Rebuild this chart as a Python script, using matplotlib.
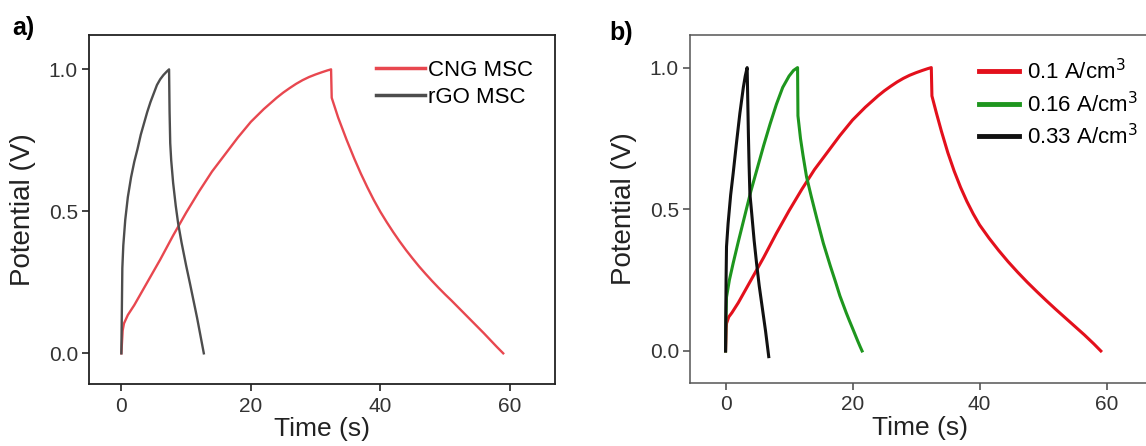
import numpy as np
import matplotlib
matplotlib.use('Agg')
import matplotlib.pyplot as plt

plt.rcParams['font.family'] = ['Liberation Sans', 'DejaVu Sans']

#############################################################################
# panel a : CNG MSC vs rGO MSC

cng_t = [0.0, 0.1, 0.2, 0.4, 1.0, 2.0, 4.0, 6.0, 8.0, 10.0, 12.0, 14.0, 16.0, 18.0, 20.0,
         22.0, 24.0, 25.0, 26.0, 27.0, 28.0, 29.0, 30.0, 31.0, 31.8, 32.4,
         32.5, 33.5, 34.8, 36.0, 37.0, 38.0, 39.0, 40.0, 41.0, 42.0, 43.0, 44.0, 45.0,
         46.0, 47.0, 48.0, 49.0, 50.0, 51.0, 52.0, 53.0, 54.0, 55.0, 56.0, 57.0, 58.0, 59.0]
cng_v = [0.0, 0.04, 0.08, 0.105, 0.135, 0.17, 0.25, 0.33, 0.415, 0.495, 0.57, 0.64, 0.70, 0.76, 0.815,
         0.86, 0.90, 0.918, 0.934, 0.949, 0.962, 0.973, 0.982, 0.99, 0.996, 1.0,
         0.90, 0.83, 0.752, 0.685, 0.633, 0.585, 0.54, 0.499, 0.462, 0.427, 0.394, 0.363, 0.334,
         0.306, 0.28, 0.255, 0.231, 0.208, 0.186, 0.163, 0.14, 0.117, 0.094, 0.071, 0.047, 0.023, 0.0]

rgo_t = [0.0, 0.05, 0.1, 0.15, 0.3, 0.6, 1.0, 1.5, 2.0, 2.5, 3.0, 3.5, 4.0, 4.5, 5.0, 5.5,
         6.0, 6.5, 7.0, 7.37,
         7.45, 7.55, 7.7, 8.0, 8.4, 8.77, 9.3, 10.0, 10.6, 11.2, 11.7, 12.2, 12.74]
rgo_v = [0.0, 0.1, 0.2, 0.3, 0.38, 0.47, 0.55, 0.62, 0.675, 0.72, 0.77, 0.81, 0.85, 0.885, 0.915, 0.945,
         0.965, 0.98, 0.992, 1.0,
         0.85, 0.74, 0.68, 0.60, 0.52, 0.458, 0.39, 0.31, 0.246, 0.18, 0.125, 0.065, 0.0]

#############################################################################
# panel b : CNG MSC at three current densities

red_t = [0.0, 0.05, 0.1, 0.15, 0.5, 1.0, 2.0, 4.0, 6.0, 8.0, 10.0, 12.0, 14.0, 16.0, 18.0,
         20.0, 22.0, 24.0, 25.0, 26.0, 27.0, 28.0, 29.0, 30.0, 31.0, 31.8, 32.4,
         32.5, 33.2, 34.0, 35.0, 36.0, 37.0, 38.0, 39.0, 40.0, 41.5, 43.0, 44.5, 46.0,
         47.5, 49.0, 50.5, 52.0, 53.5, 55.0, 56.5, 58.0, 59.1]
red_v = [0.0, 0.04, 0.08, 0.097, 0.12, 0.135, 0.17, 0.25, 0.33, 0.415, 0.495, 0.57, 0.64, 0.70, 0.76,
         0.815, 0.86, 0.90, 0.918, 0.934, 0.949, 0.962, 0.973, 0.982, 0.99, 0.996, 1.0,
         0.90, 0.84, 0.775, 0.70, 0.635, 0.578, 0.528, 0.484, 0.445, 0.398, 0.355, 0.315, 0.278,
         0.243, 0.21, 0.178, 0.147, 0.117, 0.087, 0.057, 0.025, 0.0]

green_t = [0.0, 0.05, 0.15, 0.6, 1.2, 2.0, 3.0, 4.0, 5.0, 6.0, 7.0, 8.0, 9.0, 10.0, 10.7, 11.34,
           11.4, 11.8, 12.2, 12.75, 13.5, 14.4, 15.4, 16.5, 17.3, 18.0, 18.5, 19.0, 19.5,
           20.0, 20.4, 20.8, 21.2, 21.5]
green_v = [0.0, 0.1, 0.19, 0.25, 0.31, 0.385, 0.475, 0.565, 0.645, 0.725, 0.80, 0.87, 0.93, 0.97, 0.99, 1.0,
           0.83, 0.75, 0.69, 0.615, 0.545, 0.465, 0.38, 0.30, 0.245, 0.195, 0.165, 0.135, 0.107,
           0.08, 0.058, 0.036, 0.015, 0.0]

black_t = [0.0, 0.03, 0.08, 0.15, 0.4, 0.8, 1.2, 1.7, 2.25, 2.8, 3.1, 3.4,
           3.5, 3.6, 3.7, 3.83, 4.1, 4.5, 4.88, 5.3, 5.8, 6.3, 6.8]
black_v = [0.0, 0.1, 0.25, 0.368, 0.45, 0.55, 0.627, 0.73, 0.838, 0.93, 0.97, 1.0,
           0.88, 0.76, 0.66, 0.556, 0.49, 0.39, 0.31, 0.23, 0.15, 0.07, -0.02]

labels_a = ['CNG MSC', 'rGO MSC']
labels_b = ['0.1 A/cm$^3$', '0.16 A/cm$^3$', '0.33 A/cm$^3$']

x_ticks = [0, 20, 40, 60]
y_ticks = [0.0, 0.5, 1.0]

#############################################################################

W, H = 1146, 446
fig = plt.figure(figsize=(W / 100, H / 100), dpi=100)


def px_axes(l, r, t, b):
    return fig.add_axes([l / W, 1 - b / H, (r - l) / W, (b - t) / H])


def style(ax, spine_col, spine_w):
    ax.set_xticks(x_ticks)
    ax.set_yticks(y_ticks)
    ax.set_yticklabels(['%.1f' % v for v in y_ticks])
    ax.tick_params(direction='out', length=5, width=1.2, colors=spine_col,
                   labelsize=15, labelcolor='#333333')
    ax.tick_params(axis='x', pad=4)
    ax.tick_params(axis='y', pad=3)
    for s in ax.spines.values():
        s.set_color(spine_col)
        s.set_linewidth(spine_w)
    ax.set_xlabel('Time (s)', fontsize=19, color='#222222', labelpad=1)
    ax.set_ylabel('Potential (V)', fontsize=20, color='#222222', labelpad=9)


# panel a
ax1 = px_axes(89, 555, 35, 384)
ax1.plot(cng_t, cng_v, color='#e8474f', lw=1.7, label=labels_a[0])
ax1.plot(rgo_t, rgo_v, color='#4d4d4d', lw=1.7, label=labels_a[1])
ax1.set_xlim(-5, 67)
ax1.set_ylim(-0.108, 1.121)
style(ax1, '#222222', 1.3)
leg = ax1.legend(loc='upper left', bbox_to_anchor=(376 / W, 1 - 60 / H),
                 bbox_transform=fig.transFigure, frameon=False, fontsize=16,
                 handlelength=2.2, handletextpad=0.15, labelspacing=0.25,
                 borderpad=0, borderaxespad=0)
for ln in leg.get_lines():
    ln.set_linewidth(2.5)
fig.text(12 / W, 1 - 28 / H, 'a)', fontsize=18, fontweight='bold', va='center')

# panel b (runs off the right edge of the figure)
ax2 = px_axes(690, 1151, 35, 383)
ax2.plot(red_t, red_v, color='#e3101c', lw=2.2, label=labels_b[0])
ax2.plot(green_t, green_v, color='#1e961e', lw=2.2, label=labels_b[1])
ax2.plot(black_t, black_v, color='#111111', lw=2.2, label=labels_b[2])
ax2.set_xlim(-5.6, 67)
ax2.set_ylim(-0.113, 1.115)
style(ax2, '#555555', 1.1)
leg = ax2.legend(loc='upper left', bbox_to_anchor=(979 / W, 1 - 59 / H),
                 bbox_transform=fig.transFigure, frameon=False, fontsize=16,
                 handlelength=1.8, handletextpad=0.36, labelspacing=0.33,
                 borderpad=0, borderaxespad=0)
for ln in leg.get_lines():
    ln.set_linewidth(3.5)
fig.text(609 / W, 1 - 33 / H, 'b)', fontsize=18, fontweight='bold', va='center')

plt.savefig('out.png', dpi=100)
